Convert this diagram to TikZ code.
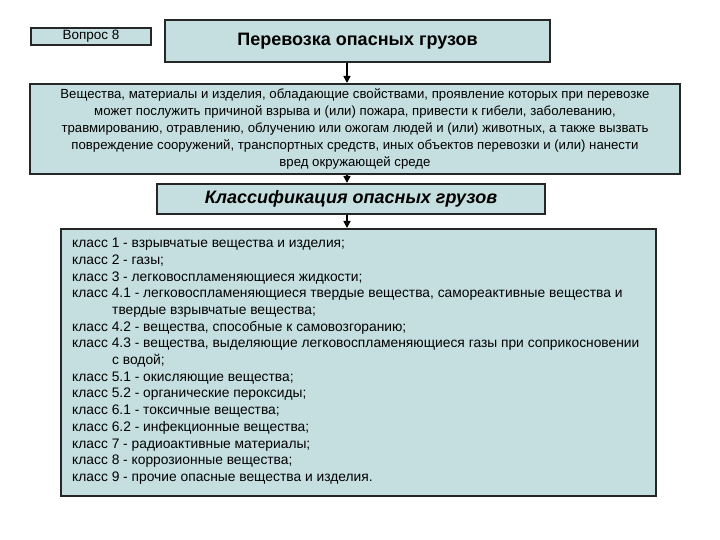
\documentclass[tikz,border=0pt]{standalone}
\usepackage{fontspec}
\setmainfont{Liberation Sans}
\usetikzlibrary{arrows.meta}
\definecolor{boxfill}{HTML}{C5DFE0}
\begin{document}
\begin{tikzpicture}[x=1pt,y=-1pt,
  box/.style={draw=black!85,line width=2pt,fill=boxfill,inner sep=0pt},
  arr/.style={-{Triangle[length=7pt,width=7pt]},line width=1.5pt}]
\useasboundingbox[fill=white] (0,0) rectangle (720,540);
\node[box,minimum width=120,minimum height=17,anchor=north west,font=\fontsize{13.5}{14}\selectfont] (q) at (30,27) {Вопрос 8};
\node[box,minimum width=385,minimum height=42,font=\fontsize{18}{20}\selectfont\bfseries] (t) at (357.5,41) {Перевозка опасных грузов};
\node[box,minimum width=650,minimum height=90,align=center,font=\fontsize{13.2}{17}\selectfont] (d) at (355,129)
{Вещества, материалы и изделия, обладающие свойствами, проявление которых при перевозке\\ может послужить причиной взрыва и (или) пожара, привести к гибели, заболеванию,\\ травмированию, отравлению, облучению или ожогам людей и (или) животных, а также вызвать\\ повреждение сооружений, транспортных средств, иных объектов перевозки и (или) нанести\\ вред окружающей среде};
\node[box,minimum width=388,minimum height=30,font=\fontsize{18}{20}\selectfont\bfseries\itshape] (c) at (351,199) {Классификация опасных грузов};
\node[box,minimum width=595,minimum height=267,anchor=north west] (l) at (60,228) {};
\node[anchor=north west,align=left,inner sep=0pt,font=\fontsize{13.8}{16.7}\selectfont] (lt) at (72,238)
{класс 1 - взрывчатые вещества и изделия;\\
класс 2 - газы;\\
класс 3 - легковоспламеняющиеся жидкости;\\
класс 4.1 - легковоспламеняющиеся твердые вещества, самореактивные вещества и\\
\hspace*{40pt}твердые взрывчатые вещества;\\
класс 4.2 - вещества, способные к самовозгоранию;\\
класс 4.3 - вещества, выделяющие легковоспламеняющиеся газы при соприкосновении\\
\hspace*{40pt}с водой;\\
класс 5.1 - окисляющие вещества;\\
класс 5.2 - органические пероксиды;\\
класс 6.1 - токсичные вещества;\\
класс 6.2 - инфекционные вещества;\\
класс 7 - радиоактивные материалы;\\
класс 8 - коррозионные вещества;\\
класс 9 - прочие опасные вещества и изделия.};
\draw[arr] (t.south -| 347,0) -- (d.north -| 347,0);
\draw[arr] (d.south -| 347,0) -- (c.north -| 347,0);
\draw[arr] (c.south -| 347,0) -- (l.north -| 347,0);
\end{tikzpicture}
\end{document}
